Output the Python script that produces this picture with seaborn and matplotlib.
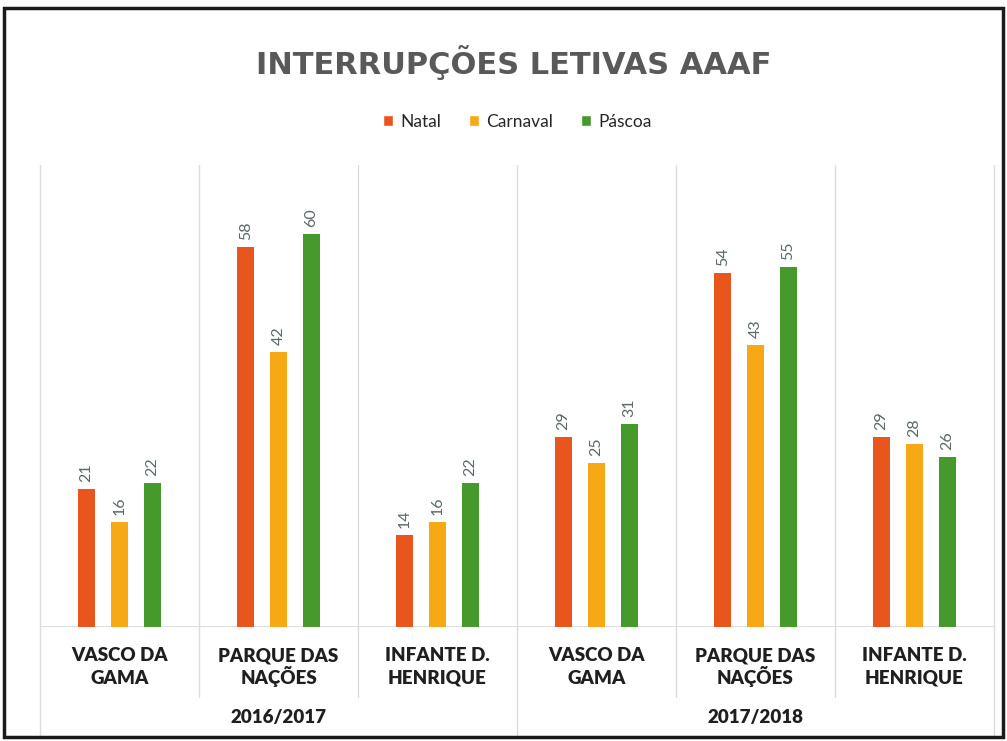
import numpy as np
import pandas as pd
import matplotlib
matplotlib.use("Agg")
import matplotlib.pyplot as plt
import seaborn as sns
from matplotlib.transforms import blended_transform_factory
from matplotlib.patches import Rectangle

# ---- data ----
years = ["2016/2017", "2017/2018"]
schools = ["VASCO DA\nGAMA", "PARQUE DAS\nNAÇÕES", "INFANTE D.\nHENRIQUE"]
series = ["Natal", "Carnaval", "Páscoa"]
natal = [21, 58, 14, 29, 54, 29]
carnaval = [16, 42, 16, 25, 43, 28]
pascoa = [22, 60, 22, 31, 55, 26]
title = "INTERRUPÇÕES LETIVAS AAAF"

colors = ["#E8561E", "#F7A915", "#469A2C"]

keys = [f"{y}|{s}" for y in years for s in schools]
rows = []
for name, vals in zip(series, [natal, carnaval, pascoa]):
    for k, v in zip(keys, vals):
        rows.append({"key": k, "series": name, "value": v})
df = pd.DataFrame(rows)

sns.set_theme(style="white")
plt.rcParams["font.family"] = ["Lato", "DejaVu Sans"]

W, H = 1007, 741
fig = plt.figure(figsize=(W / 100, H / 100), dpi=100)
fig.patch.set_facecolor("white")

x0, x1 = 40, 994
ytop, ybase = 165, 627
ax = fig.add_axes([x0 / W, (H - ybase) / H, (x1 - x0) / W, (ybase - ytop) / H])

sns.barplot(data=df, x="key", y="value", hue="series", order=keys,
            hue_order=series, palette=colors, width=0.62, saturation=1,
            ax=ax, legend=True)

bw = 17 / 159
for cont in ax.containers:
    for p in cont:
        cx = p.get_x() + p.get_width() / 2
        p.set_width(bw)
        p.set_x(cx - bw / 2)
        p.set_edgecolor("none")
    ax.bar_label(cont, rotation=90, padding=5, fontsize=11.5, color="#5a6868")

ax.set_xlim(-0.5, 5.5)
ax.set_ylim(0, 70.5)
ax.set_xlabel("")
ax.set_ylabel("")
ax.set_yticks([])
for sp in ax.spines.values():
    sp.set_visible(False)

# baseline
ax.axhline(0, color="#d9d9d9", lw=1.2, zorder=0)

# category separators (gridlines) and extended ticks
trans = blended_transform_factory(ax.transData, fig.transFigure)
base_f = (H - ybase) / H
for xs in np.arange(-0.5, 6.0, 1.0):
    ax.plot([xs, xs], [0, 70.5], color="#dcdcdc", lw=1.0, zorder=0, clip_on=False)
    if xs in (-0.5, 2.5, 5.5):
        yend = (H - 736) / H
    else:
        yend = (H - 697) / H
    ax.plot([xs, xs], [base_f, yend], color="#dcdcdc", lw=1.0, transform=trans,
            clip_on=False)

# category labels, two lines each with fixed baselines
ax.set_xticks(range(6))
ax.set_xticklabels([""] * 6)
ax.tick_params(axis="x", length=0)
for i, s in enumerate(schools * 2):
    l1, l2 = s.split("\n")
    for line, yb in ((l1, 661), (l2, 684)):
        ax.text(i, (H - yb) / H, line, transform=trans, fontsize=13.5,
                fontweight="heavy", color="#1f1f1f", ha="center", va="baseline")

# year labels at group centers
for xc, y in zip([1.0, 4.0], years):
    ax.text(xc, (H - 723) / H, y, transform=trans, fontsize=13.5,
            fontweight="heavy", color="#1f1f1f", ha="center", va="baseline")

# title
fig.text(514 / W, 1 - 63 / H, title, fontsize=22, fontweight="bold",
         color="#595959", ha="center", va="center",
         family=["DejaVu Sans"])

# legend
handles, labels = ax.get_legend_handles_labels()
ax.legend(handles, labels, loc="center", bbox_to_anchor=(517 / W, 1 - 122 / H),
          bbox_transform=fig.transFigure, ncol=3, frameon=False,
          handlelength=0.6, handleheight=0.6, handletextpad=0.4,
          columnspacing=1.6, fontsize=12.5, labelcolor="#262626")

# scan frame border
fig.add_artist(Rectangle((4 / W, 4 / H), (1003 - 4) / W, (737 - 8) / H,
                         fill=False, lw=2.5, edgecolor="#1a1a1a",
                         transform=fig.transFigure))

fig.savefig("out.png", dpi=100, facecolor="white")
